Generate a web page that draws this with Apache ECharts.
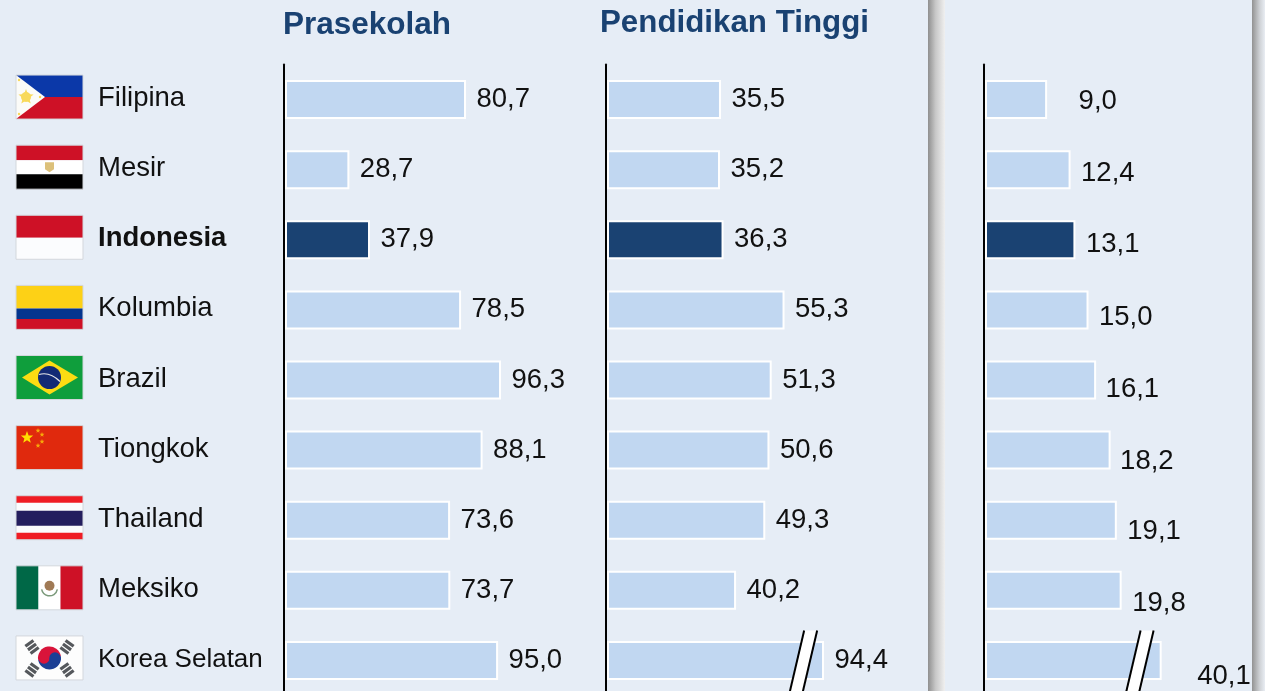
<!DOCTYPE html>
<html>
<head>
<meta charset="utf-8">
<title>Prasekolah dan Pendidikan Tinggi</title>
<script src="https://cdn.jsdelivr.net/npm/echarts@6/dist/echarts.min.js"></script>
<style>
    html, body { margin: 0; padding: 0; background: #e6edf6; overflow: hidden; }
    /* last row runs off the bottom of the page, so the canvas is a bit taller than the window */
    #chart { width: 1265px; height: 700px; }
</style>
</head>
<body>
<div id="chart"></div>
<script>
    // data
    const categories = ['Filipina', 'Mesir', 'Indonesia', 'Kolumbia', 'Brazil', 'Tiongkok', 'Thailand', 'Meksiko', 'Korea Selatan']
    const prasekolah = [80.7, 28.7, 37.9, 78.5, 96.3, 88.1, 73.6, 73.7, 95.0]
    const pendidikanTinggi = [35.5, 35.2, 36.3, 55.3, 51.3, 50.6, 49.3, 40.2, 94.4]
    const ketiga = [9.0, 12.4, 13.1, 15.0, 16.1, 18.2, 19.1, 19.8, 40.1]

    const FONT = '"Liberation Sans", Arial, sans-serif'
    const NAVY = '#1a4272'
    const LIGHT = '#c1d7f1'
    const PANEL = '#e6edf6'

    // label nudges of the third panel, the source has them slipping away from the bars
    const thirdLabelOffset = [[21, 2], [0, 4], [0, 5], [0, 8], [-1, 9], [-1, 11], [0, 11], [0, 13], [25, 16]]

    function fmt(v) {
        return v.toFixed(1).replace('.', ',')
    }

    function barSeries(values, index, offsets) {
        return {
            type: 'bar',
            xAxisIndex: index,
            yAxisIndex: index,
            barWidth: 39,
            silent: true,
            z: 2,
            data: values.map((v, i) => ({
                value: v,
                itemStyle: {
                    color: categories[i] === 'Indonesia' ? NAVY : LIGHT,
                    borderColor: '#fff',
                    borderWidth: 2
                },
                label: {
                    show: true,
                    position: 'right',
                    distance: 10.5,
                    offset: offsets ? offsets[i] : [0, 0],
                    formatter: fmt(v),
                    fontFamily: FONT,
                    fontSize: 27.5,
                    color: '#111'
                }
            }))
        }
    }

    // double slash over a broken bar, placed on the axis break
    function slashSeries(index, slashValue) {
        return {
            type: 'custom',
            xAxisIndex: index,
            yAxisIndex: index,
            silent: true,
            clip: false,
            z: 4,
            encode: {x: 0, y: 1},
            data: [[slashValue, 'Korea Selatan']],
            renderItem(params, api) {
                const c = api.coord([api.value(0), 'Korea Selatan'])
                const dx = 7.5, dy = 30, w = 6.5
                const edge = s => ({
                    type: 'line',
                    shape: {x1: c[0] + dx + s, y1: c[1] - dy, x2: c[0] - dx + s, y2: c[1] + dy + 4},
                    style: {stroke: '#000', lineWidth: 2}
                })
                return {
                    type: 'group',
                    children: [{
                        type: 'polygon',
                        shape: {points: [
                            [c[0] + dx - w, c[1] - dy], [c[0] + dx + w, c[1] - dy],
                            [c[0] - dx + w, c[1] + dy + 4], [c[0] - dx - w, c[1] + dy + 4]
                        ]},
                        style: {fill: '#fff'}
                    }, edge(-w), edge(w)]
                }
            }
        }
    }

    const grids = [
        {left: 285, top: 64.5, width: 224.3, height: 631},
        {left: 607, top: 64.5, width: 235, height: 631},
        {left: 985, top: 64.5, width: 210.5, height: 631}
    ]

    const hiddenX = {type: 'value', min: 0, show: false, splitLine: {show: false}}

    const chart = echarts.init(document.getElementById('chart'))
    chart.setOption({
        backgroundColor: PANEL,
        animation: false,
        title: [
            {text: 'Prasekolah', left: 278, top: 4, textStyle: {fontFamily: FONT, fontSize: 31.5, fontWeight: 'bold', color: NAVY}},
            {text: 'Pendidikan Tinggi', left: 595, top: 3, textStyle: {fontFamily: FONT, fontSize: 31.3, fontWeight: 'bold', color: NAVY}}
        ],
        grid: grids,
        xAxis: [
            Object.assign({}, hiddenX, {gridIndex: 0, max: 100}),
            Object.assign({}, hiddenX, {gridIndex: 1, max: 100, breaks: [{start: 61.7, end: 88.5, gap: 0}], breakArea: {show: false}}),
            Object.assign({}, hiddenX, {gridIndex: 2, max: 45, breaks: [{start: 22.7, end: 37.2, gap: 0}], breakArea: {show: false}})
        ],
        yAxis: [0, 1, 2].map(i => ({
            type: 'category',
            gridIndex: i,
            inverse: true,
            data: categories,
            z: 5,
            offset: 1,
            axisTick: {show: false},
            axisLine: {onZero: false, lineStyle: {color: '#000', width: 2}},
            axisLabel: i === 0 ? {
                show: true,
                margin: 186,
                align: 'left',
                fontFamily: FONT,
                fontSize: 27.5,
                color: '#111',
                padding: [0, 0, 2, 0],
                formatter(name) {
                    if (name === 'Indonesia') return '{b|' + name + '}'
                    if (name === 'Korea Selatan') return '{s|' + name + '}'
                    return name
                },
                rich: {
                    b: {fontFamily: FONT, fontSize: 27.5, fontWeight: 'bold', color: '#111'},
                    s: {fontFamily: FONT, fontSize: 26, color: '#111'}
                }
            } : {show: false}
        })),
        series: [
            barSeries(prasekolah, 0),
            barSeries(pendidikanTinggi, 1),
            barSeries(ketiga, 2, thirdLabelOffset),
            slashSeries(1, 61.1),
            slashSeries(2, 22.4)
        ]
    })

    // flags, all drawn in a 67x44 box
    const rect = (x, y, w, h, fill) => ({type: 'rect', shape: {x, y, width: w, height: h}, style: {fill}})
    const circle = (cx, cy, r, fill) => ({type: 'circle', shape: {cx, cy, r}, style: {fill}})
    const poly = (points, fill) => ({type: 'polygon', shape: {points}, style: {fill}})

    function star(cx, cy, r, fill) {
        const pts = []
        for (let i = 0; i < 10; i++) {
            const a = -Math.PI / 2 + i * Math.PI / 5
            const q = i % 2 ? r * 0.42 : r
            pts.push([cx + q * Math.cos(a), cy + q * Math.sin(a)])
        }
        return poly(pts, fill)
    }

    function trigram(cx, cy, angle) {
        const bars = [-4.4, 0, 4.4].map(o => ({
            type: 'rect',
            shape: {x: -5, y: o - 1.6, width: 10, height: 3.2},
            style: {fill: '#55585c'}
        }))
        return {type: 'group', x: cx, y: cy, rotation: angle, children: bars}
    }

    const flags = {
        'Filipina': [
            rect(0, 0, 67, 22, '#0b38a8'),
            rect(0, 22, 67, 22, '#ce1126'),
            poly([[0, 0], [29, 22], [0, 44]], '#fbfbf8'),
            circle(10, 22, 5, '#f8d95a'),
            star(10, 22, 8, '#f8d95a'),
            circle(3, 5, 1.2, '#f8d95a'), circle(3, 39, 1.2, '#f8d95a'), circle(24, 22, 1.2, '#f8d95a')
        ],
        'Mesir': [
            rect(0, 0, 67, 15, '#ce1126'),
            rect(0, 15, 67, 14, '#fff'),
            rect(0, 29, 67, 15, '#000'),
            poly([[29, 17], [38, 17], [38, 24], [33.5, 27], [29, 24]], '#dcc07a')
        ],
        'Indonesia': [rect(0, 0, 67, 22.5, '#ce1126'), rect(0, 22.5, 67, 21.5, '#fbfcfe')],
        'Kolumbia': [
            rect(0, 0, 67, 23, '#fdd116'),
            rect(0, 23, 67, 10.5, '#04358f'),
            rect(0, 33.5, 67, 10.5, '#ce1126')
        ],
        'Brazil': [
            rect(0, 0, 67, 44, '#0f9e3c'),
            poly([[6, 22], [33.5, 5], [62, 22], [33.5, 39]], '#fcdc13'),
            circle(33.5, 22, 11.5, '#132a75'),
            {type: 'bezierCurve', shape: {x1: 23, y1: 19, x2: 44, y2: 26, cpx1: 30, cpy1: 17, cpx2: 38, cpy2: 20}, style: {stroke: '#e8e8e8', fill: 'none', lineWidth: 1.2}}
        ],
        'Tiongkok': [
            rect(0, 0, 67, 44, '#e0290d'),
            star(11, 12, 6.5, '#ffde00'),
            star(22, 5, 2.6, '#f7a90a'), star(26, 9, 2.6, '#f7a90a'),
            star(26, 16, 2.6, '#f7a90a'), star(22, 20, 2.6, '#f7a90a')
        ],
        'Thailand': [
            rect(0, 0, 67, 44, '#fbfbfd'),
            rect(0, 0, 67, 7, '#ef1c24'),
            rect(0, 15, 67, 15, '#241e5e'),
            rect(0, 37, 67, 7, '#ef1c24')
        ],
        'Meksiko': [
            rect(0, 0, 22.5, 44, '#006847'),
            rect(22.5, 0, 22, 44, '#fff'),
            rect(44.5, 0, 22.5, 44, '#ce1126'),
            circle(33.5, 20, 5, '#a07a55'),
            {type: 'arc', shape: {cx: 33.5, cy: 22, r: 8, startAngle: 0.2, endAngle: Math.PI - 0.2}, style: {stroke: '#7b9a7b', fill: 'none', lineWidth: 1.5}}
        ],
        'Korea Selatan': [
            rect(0, 0, 67, 44, '#fdfdfd'),
            {type: 'sector', shape: {cx: 33.5, cy: 22, r: 11.5, startAngle: Math.PI * 0.95, endAngle: Math.PI * 1.95}, style: {fill: '#d9143a'}},
            {type: 'sector', shape: {cx: 33.5, cy: 22, r: 11.5, startAngle: Math.PI * 1.95, endAngle: Math.PI * 2.95}, style: {fill: '#1c3f95'}},
            circle(28, 22, 5.7, '#d9143a'),
            circle(39, 22, 5.7, '#1c3f95'),
            trigram(16, 11, -Math.PI * 0.8),
            trigram(51, 11, Math.PI * 0.8),
            trigram(16, 34, Math.PI * 0.8),
            trigram(51, 34, -Math.PI * 0.8)
        ]
    }

    const graphic = [
        // shadow strips between the panels
        {
            type: 'rect', silent: true, z: -10,
            shape: {x: 928, y: 0, width: 17, height: 700},
            style: {fill: new echarts.graphic.LinearGradient(0, 0, 1, 0, [
                {offset: 0, color: '#8f8f8f'}, {offset: 0.45, color: '#c8c8c8'}, {offset: 1, color: '#f0f0f0'}
            ])}
        },
        {
            type: 'rect', silent: true, z: -10,
            shape: {x: 1252, y: 0, width: 13, height: 700},
            style: {fill: new echarts.graphic.LinearGradient(0, 0, 1, 0, [
                {offset: 0, color: '#929292'}, {offset: 0.6, color: '#cfd2d6'}, {offset: 1, color: '#e9edf3'}
            ])}
        }
    ]
    categories.forEach(name => {
        const cy = chart.convertToPixel({yAxisIndex: 0}, name)
        graphic.push({
            type: 'group',
            x: 16,
            y: cy - 24.5,
            silent: true,
            children: flags[name].concat([{
                type: 'rect',
                shape: {x: 0, y: 0, width: 67, height: 44},
                style: {fill: 'none', stroke: '#d3d7dc', lineWidth: 1}
            }])
        })
    })
    chart.setOption({graphic})
</script>
</body>
</html>
